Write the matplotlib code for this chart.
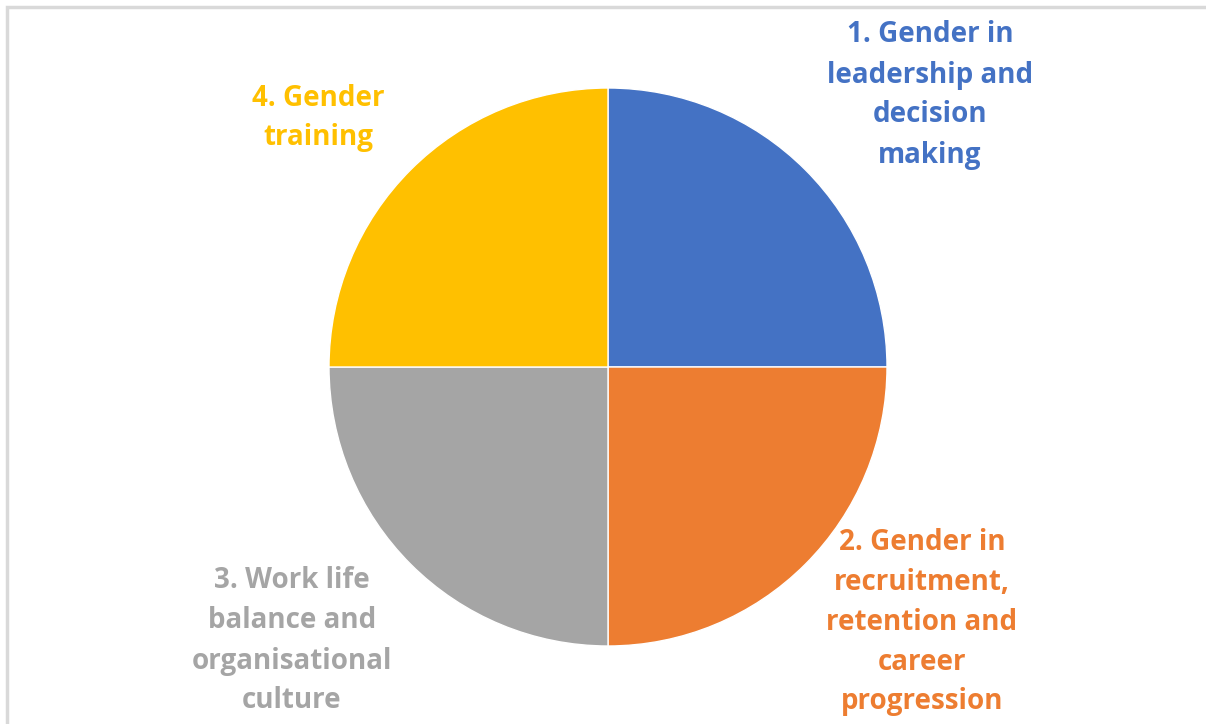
import matplotlib.pyplot as plt
from matplotlib.patches import Rectangle

labels = ['1. Gender in\nleadership and\ndecision\nmaking',
          '2. Gender in\nrecruitment,\nretention and\ncareer\nprogression',
          '3. Work life\nbalance and\norganisational\nculture',
          '4. Gender\ntraining']
values = [25, 25, 25, 25]
colors = ['#4472C4', '#ED7D31', '#A5A5A5', '#FFC000']

# label centres in pixel coords (y measured from bottom)
label_pos = [(930, 724 - 95), (922, 724 - 622), (292, 724 - 641), (318, 724 - 118)]

W, H = 1206, 724
fig = plt.figure(figsize=(W / 100, H / 100), dpi=100)
ax = fig.add_axes([0, 0, 1, 1])
ax.set_xlim(0, W)
ax.set_ylim(0, H)
ax.set_aspect('equal')
ax.axis('off')

ax.pie(values, colors=colors, startangle=90, counterclock=False,
       center=(608, H - 367), radius=279,
       wedgeprops=dict(edgecolor='white', linewidth=1))
ax.set_xlim(0, W)
ax.set_ylim(0, H)

for lbl, (x, y), c in zip(labels, label_pos, colors):
    ax.text(x, y, lbl, color=c, ha='center', va='center', multialignment='center',
            fontsize=20, fontweight='bold', family='Open Sans', linespacing=1.5)

# chart frame
ax.add_patch(Rectangle((7, -20), W + 20, H - 7 + 20, fill=False,
                       edgecolor='#D9D9D9', linewidth=2.5))

fig.savefig('out.png', dpi=100)
